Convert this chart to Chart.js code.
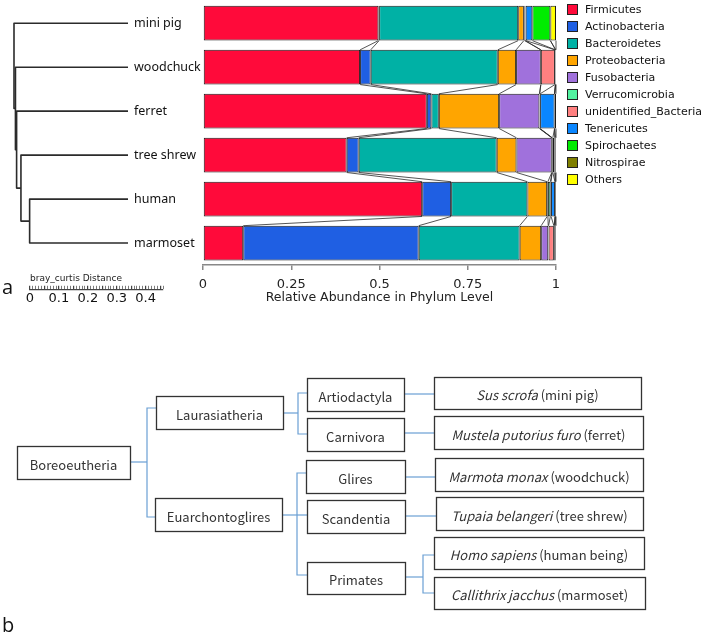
<!DOCTYPE html>
<html>
<head>
<meta charset="utf-8">
<script src="https://cdn.jsdelivr.net/npm/chart.js@4.4.1/dist/chart.umd.min.js"></script>
<style>
  html, body { margin: 0; padding: 0; background: #fff; }
  #page { position: relative; width: 708px; height: 635px; overflow: hidden; }
  canvas { position: absolute; }
  #bars { left: 0; top: 0; }
  #tree { left: 0; top: 0; }
  #scalebar { left: 0; top: 271px; }
  #legend { position: absolute; left: 567px; top: 1px; font: 11px 'DejaVu Sans', sans-serif; color: #111; }
  .lg { height: 17px; display: flex; align-items: center; white-space: nowrap; }
  .lg i { display: inline-block; width: 11px; height: 11px; box-sizing: border-box; border: 1px solid #222; margin-right: 7px; }
  svg { position: absolute; left: 0; top: 0; }
</style>
</head>
<body>
<div id="page">
  <canvas id="tree" width="200" height="310"></canvas>
  <canvas id="bars" width="708" height="310"></canvas>
  <canvas id="scalebar" width="200" height="36"></canvas>
  <div id="legend"></div>
  <svg id="taxa" width="708" height="635"></svg>
</div>
<script>
// animals, top to bottom
const categories = ['mini pig', 'woodchuck', 'ferret', 'tree shrew', 'human', 'marmoset'];

// relative abundance per phylum, same order as categories
const firmicutes      = [0.497, 0.445, 0.634, 0.407, 0.621, 0.114];
const actinobacteria  = [0.002, 0.030, 0.013, 0.034, 0.082, 0.497];
const bacteroidetes   = [0.394, 0.360, 0.021, 0.391, 0.216, 0.286];
const proteobacteria  = [0.016, 0.052, 0.171, 0.056, 0.056, 0.061];
const fusobacteria    = [0.002, 0.070, 0.114, 0.100, 0.002, 0.020];
const verrucomicrobia = [0.002, 0.000, 0.001, 0.001, 0.007, 0.001];
const unidentified    = [0.001, 0.040, 0.001, 0.000, 0.002, 0.015];
const tenericutes     = [0.019, 0.001, 0.041, 0.002, 0.011, 0.001];
const spirochaetes    = [0.051, 0.001, 0.000, 0.005, 0.001, 0.000];
const nitrospirae     = [0.000, 0.000, 0.000, 0.003, 0.000, 0.004];
const others          = [0.016, 0.001, 0.004, 0.001, 0.002, 0.001];

const phyla = ['Firmicutes', 'Actinobacteria', 'Bacteroidetes', 'Proteobacteria', 'Fusobacteria',
  'Verrucomicrobia', 'unidentified_Bacteria', 'Tenericutes', 'Spirochaetes', 'Nitrospirae', 'Others'];
const series = [firmicutes, actinobacteria, bacteroidetes, proteobacteria, fusobacteria,
  verrucomicrobia, unidentified, tenericutes, spirochaetes, nitrospirae, others];
const colors = ['#ff0a3a', '#1f5fe3', '#00b1a5', '#ffa500', '#a071dc',
  '#52f2a0', '#ff8080', '#0a86ff', '#00ec00', '#7f7f00', '#ffff00'];

const xTicks = [0, 0.25, 0.5, 0.75, 1];

// bray_curtis clustering: node 6+i joins treeLeft[i] and treeRight[i] at treeHeight[i]
const treeLeft   = [4, 3, 2, 1, 0];
const treeRight  = [5, 6, 7, 8, 9];
const treeHeight = [0.340, 0.370, 0.385, 0.389, 0.394];
const scaleBarTicks = [0, 0.1, 0.2, 0.3, 0.4];
const scaleBarMax = 0.46;

// legend
const legendBox = document.getElementById('legend');
phyla.forEach((p, i) => {
  const row = document.createElement('div');
  row.className = 'lg';
  row.innerHTML = '<i style="background:' + colors[i] + '"></i>' + p;
  legendBox.appendChild(row);
});

// lines linking the same boundary in neighbouring bars
const linkPlugin = {
  id: 'links',
  afterDatasetsDraw(chart) {
    const ctx = chart.ctx;
    ctx.save();
    ctx.strokeStyle = '#2a2a2a';
    ctx.lineWidth = 0.8;
    for (let k = 0; k < series.length; k++) {
      const bars = chart.getDatasetMeta(k).data;
      for (let r = 0; r < bars.length - 1; r++) {
        const a = bars[r], b = bars[r + 1];
        ctx.beginPath();
        ctx.moveTo(a.x, a.y + a.height / 2);
        ctx.lineTo(b.x, b.y - b.height / 2);
        ctx.stroke();
      }
    }
    ctx.restore();
  }
};

const barChart = new Chart(document.getElementById('bars'), {
  type: 'bar',
  data: {
    labels: categories,
    datasets: phyla.map((p, i) => ({
      label: p,
      data: series[i],
      backgroundColor: colors[i],
      borderColor: '#1a1a1a',
      borderWidth: 1,
      borderSkipped: false,
      barPercentage: 0.79,
      categoryPercentage: 1
    }))
  },
  options: {
    indexAxis: 'y',
    responsive: false,
    animation: false,
    events: [],
    layout: { padding: { left: 134, right: 152, top: 0, bottom: 11 } },
    plugins: { legend: { display: false }, tooltip: { enabled: false } },
    scales: {
      x: {
        stacked: true,
        min: 0,
        max: 1,
        afterBuildTicks: axis => { axis.ticks = xTicks.map(v => ({ value: v })); },
        ticks: {
          callback: v => String(v),
          maxRotation: 0,
          padding: 14,
          color: '#222',
          font: { family: 'DejaVu Sans', size: 13, lineHeight: 0.15 }
        },
        grid: { drawOnChartArea: false, tickLength: 5, color: '#888', lineWidth: 1.5 },
        border: { color: '#888', width: 1.5 },
        title: {
          display: true,
          text: 'Relative Abundance in Phylum Level',
          color: '#222',
          font: { family: 'DejaVu Sans', size: 12.5, lineHeight: 0.16 },
          padding: { top: -3, bottom: 0 }
        }
      },
      y: {
        stacked: true,
        grid: { display: false },
        border: { display: false },
        afterFit: axis => { axis.width = 69; },
        ticks: {
          crossAlign: 'far',
          padding: 0,
          color: '#111',
          font: { family: 'Noto Sans', size: 12.5, lineHeight: 0.2 }
        }
      }
    }
  },
  plugins: [linkPlugin]
});

// dendrogram, aligned on the bar rows
const nodeY = categories.map((c, i) => i);
const nodeH = categories.map(() => 0);
const treeSegments = treeLeft.map((l, i) => {
  const r = treeRight[i];
  nodeY.push((nodeY[l] + nodeY[r]) / 2);
  nodeH.push(treeHeight[i]);
  return [
    { x: nodeH[l], y: nodeY[l] },
    { x: treeHeight[i], y: nodeY[l] },
    { x: treeHeight[i], y: nodeY[r] },
    { x: nodeH[r], y: nodeY[r] }
  ];
});

const area = barChart.chartArea;
new Chart(document.getElementById('tree'), {
  type: 'scatter',
  data: {
    datasets: treeSegments.map(pts => ({
      data: pts,
      showLine: true,
      borderColor: '#2b2b2b',
      borderWidth: 1.6,
      borderJoinStyle: 'round',
      pointRadius: 0,
      clip: false
    }))
  },
  options: {
    responsive: false,
    animation: false,
    events: [],
    layout: { padding: { left: 14, right: 72, top: area.top, bottom: 310 - area.bottom } },
    plugins: { legend: { display: false }, tooltip: { enabled: false } },
    scales: {
      x: { type: 'linear', reverse: true, min: 0, max: treeHeight[treeHeight.length - 1], display: false },
      y: { type: 'linear', reverse: true, min: -0.5, max: categories.length - 0.5, display: false }
    }
  }
});

// distance scale bar
new Chart(document.getElementById('scalebar'), {
  type: 'scatter',
  data: { datasets: [] },
  options: {
    responsive: false,
    animation: false,
    events: [],
    layout: { padding: { left: 30, right: 37, top: 0, bottom: 0 } },
    plugins: {
      legend: { display: false },
      tooltip: { enabled: false },
      title: {
        display: true,
        text: 'bray_curtis Distance',
        align: 'start',
        color: '#222',
        font: { family: 'DejaVu Sans', size: 9, weight: 'normal', lineHeight: 1.2 },
        padding: { top: 2, bottom: 2 }
      }
    },
    scales: {
      x: {
        type: 'linear',
        min: 0,
        max: scaleBarMax,
        ticks: {
          stepSize: 0.01,
          maxTicksLimit: 100,
          autoSkip: false,
          maxRotation: 0,
          minRotation: 0,
          padding: 1,
          color: '#111',
          font: { family: 'DejaVu Sans', size: 13, lineHeight: 1.2 },
          callback: v => {
            const k = Math.round(v * 10) / 10;
            return Math.abs(v - k) < 1e-6 && scaleBarTicks.includes(k) ? String(k) : '';
          }
        },
        grid: {
          drawTicks: false,
          color: '#444',
          lineWidth: c => (Math.abs(c.tick.value * 20 - Math.round(c.tick.value * 20)) < 1e-6 ? 1.2 : 0.7)
        },
        border: { color: '#444', width: 1.2 }
      },
      y: { display: false, min: 0, max: 1 }
    }
  }
});

// panel b: taxonomy boxes
const NS = 'http://www.w3.org/2000/svg';
const svg = document.getElementById('taxa');
function el(name, attrs, parent) {
  const e = document.createElementNS(NS, name);
  for (const k in attrs) e.setAttribute(k, attrs[k]);
  (parent || svg).appendChild(e);
  return e;
}
const boxes = [
  { x: 17, y: 446, w: 113, h: 33, t: ['', 'Boreoeutheria'] },
  { x: 156, y: 396, w: 127, h: 33, t: ['', 'Laurasiatheria'] },
  { x: 155, y: 498, w: 127, h: 33, t: ['', 'Euarchontoglires'] },
  { x: 307, y: 378, w: 97, h: 33, t: ['', 'Artiodactyla'] },
  { x: 307, y: 418, w: 97, h: 33, t: ['', 'Carnivora'] },
  { x: 306, y: 460, w: 99, h: 33, t: ['', 'Glires'] },
  { x: 307, y: 500, w: 98, h: 33, t: ['', 'Scandentia'] },
  { x: 307, y: 562, w: 98, h: 32, t: ['', 'Primates'] },
  { x: 434, y: 377, w: 207, h: 32, t: ['Sus scrofa', ' (mini pig)'] },
  { x: 434, y: 416, w: 209, h: 33, t: ['Mustela putorius furo', ' (ferret)'] },
  { x: 435, y: 458, w: 208, h: 33, t: ['Marmota monax', ' (woodchuck)'] },
  { x: 436, y: 497, w: 207, h: 33, t: ['Tupaia belangeri', ' (tree shrew)'] },
  { x: 434, y: 537, w: 210, h: 32, t: ['Homo sapiens', ' (human being)'] },
  { x: 434, y: 577, w: 211, h: 32, t: ['Callithrix jacchus', ' (marmoset)'] }
];
const links = [
  'M130 462 H147', 'M156 408 H147 V517 H155',
  'M283 413 H298', 'M307 393 H298 V434 H307',
  'M282 515 H307', 'M306 473 H297 V575 H307',
  'M404 394 H434', 'M404 433 H434', 'M405 477 H435', 'M405 516 H436',
  'M405 577 H423', 'M434 555 H423 V593 H434'
];
links.forEach(d => el('path', { d, fill: 'none', stroke: '#6a9fd4', 'stroke-width': 1.2 }));
boxes.forEach(b => {
  el('rect', { x: b.x + 0.5, y: b.y + 0.5, width: b.w, height: b.h, fill: '#fff', stroke: '#333', 'stroke-width': 1.3 });
  const t = el('text', {
    x: b.x + b.w / 2, y: b.y + b.h / 2 + 1, 'text-anchor': 'middle', 'dominant-baseline': 'central',
    'font-family': "'Noto Sans CJK SC', 'Noto Sans', sans-serif", 'font-size': 13, fill: '#333'
  });
  if (b.t[0]) el('tspan', { 'font-style': 'italic' }, t).textContent = b.t[0];
  el('tspan', {}, t).textContent = b.t[1];
});
el('text', { x: 2, y: 294, 'font-family': "'Open Sans', sans-serif", 'font-size': 20, fill: '#111' }).textContent = 'a';
el('text', { x: 2, y: 632, 'font-family': "'Open Sans', sans-serif", 'font-size': 20, fill: '#111' }).textContent = 'b';
</script>
</body>
</html>
